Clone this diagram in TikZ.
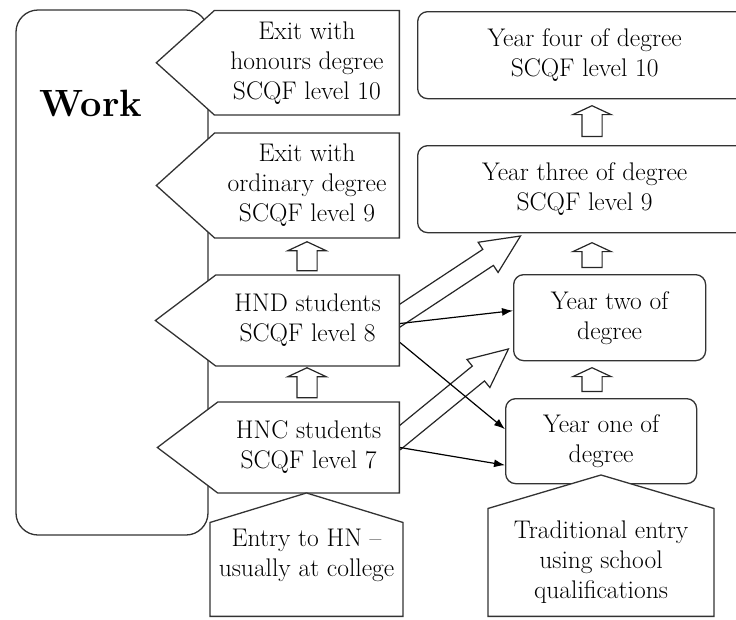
\documentclass[tikz,border=0pt]{standalone}
\usetikzlibrary{arrows.meta,shapes.symbols,shapes.arrows,calc,backgrounds}
\tikzset{
    %Define standard arrow tip
    >={Latex[length=11pt,width=8pt]},
    %Define text style
    txt/.style={
           align=center,
           font=\fontsize{25.5}{30}\selectfont},
    %Define style for boxes
    plain/.style={
           txt,
           rectangle,
           rounded corners=10pt,
           draw=black!80, line width=1.3pt,
           fill=white,
           anchor=north west},
    %Define style for exit and student boxes
    exitsign/.style={
           txt,
           signal, signal to=west,
           draw=black!80, line width=1.3pt,
           fill=white,
           inner sep=1pt,
           anchor=east},
    %Define style for entry boxes
    entrysign/.style={
           txt,
           signal, signal to=north,
           draw=black!80, line width=1.3pt,
           fill=white,
           inner sep=1pt,
           anchor=south},
    % Define arrow style
    pil/.style={
           ->,
           line width=1.2pt},
    % Define hollow arrow styles
    bigpil/.style={
           single arrow,
           draw=black!85, line width=1.2pt,
           fill=white,
           inner sep=0pt, inner ysep=9pt,
           minimum width=0pt,
           single arrow head extend=8.5pt,
           single arrow tip angle=50},
    uppil/.style={
           bigpil,
           inner ysep=9.5pt,
           single arrow head extend=9pt,
           single arrow tip angle=130}
}
% hollow arrow from one point to another
\newcommand\hollowpil[3][bigpil]{%
    \path let \p1=#2, \p2=#3,
        \n1={atan2(\y2-\y1,\x2-\x1)},
        \n2={veclen(\x2-\x1,\y2-\y1)} in
        node[#1, anchor=tail, rotate=\n1, minimum height=\n2] at (\p1) {};
}

\begin{document}
\begin{tikzpicture}[x=1pt, y=-1pt]
        \useasboundingbox (0,0) rectangle (736,619);
        %nodes

        % work node
        \node[rectangle, rounded corners=22pt, draw=black!80, line width=1.3pt,
        minimum width=192pt, minimum height=525pt]
        (work)
        at (112,272.5)
        {}
        ;
        \node[font=\fontsize{38}{40}\bfseries\selectfont]
        (worktext)
        at (91,103)
        {Work}
        ;

        % exit with honours node
        \node[exitsign, minimum width=243pt, minimum height=104.5pt,
        signal pointer angle=84]
        (exithon)
        at (400,62.75)
        {Exit with\\honours degree\\SCQF level 10}
        ;

        % exit with ordinary node
        \node[exitsign, minimum width=243pt, minimum height=105pt,
        signal pointer angle=84]
        (exitord)
        at (400,185.5)
        {Exit with\\ordinary degree\\SCQF level 9}
        ;

        % HND students node
        \node[exitsign, minimum width=244pt, minimum height=91pt,
        signal pointer angle=74]
        (hnd)
        at (400,320.5)
        {HND students\\SCQF level 8}
        ;

        % HNC students node
        \node[exitsign, minimum width=242pt, minimum height=91pt,
        signal pointer angle=74]
        (hnc)
        at (400,447.5)
        {HNC students\\SCQF level 7}
        ;

        % year four node
        \node[plain, minimum width=334pt, minimum height=87pt]
        (y4)
        at (417,11)
        {Year four of degree\\SCQF level 10}
        ;

        % year three node
        \node[plain, minimum width=334pt, minimum height=87pt]
        (y3)
        at (417,145)
        {Year three of degree\\SCQF level 9}
        ;

        % year two node
        \node[plain, minimum width=192pt, minimum height=86pt]
        (y2)
        at (513,274)
        {Year two of\\degree}
        ;

        % year one node
        \node[plain, minimum width=191pt, minimum height=85pt]
        (y1)
        at (505,398)
        {Year one of\\degree}
        ;

        % entry to HN node
        \node[entrysign, minimum width=193pt, minimum height=121pt,
        signal pointer angle=146]
        (entry)
        at (306.5,617)
        {Entry to HN --\\usually at college\\[4pt]\mbox{}}
        ;

        % traditional entry node
        \node[entrysign, minimum width=226pt, minimum height=134pt,
        signal pointer angle=147]
        (trad)
        at (601,617)
        {Traditional entry\\using school\\qualifications}
        ;

        \begin{pgfonlayer}{background}
        % steps up the left column
        \hollowpil[uppil]{([xshift=-93pt,yshift=3pt]hnd.north east)}
            {([xshift=-93pt,yshift=-5pt]exitord.south east)}
        \hollowpil[uppil]{([xshift=-93pt,yshift=3pt]hnc.north east)}
            {([xshift=-93pt,yshift=-3pt]hnd.south east)}

        % steps up the right column
        \hollowpil[uppil]{([xshift=175pt,yshift=8pt]y3.north west)}
            {([xshift=175pt,yshift=-7pt]y4.south west)}
        \hollowpil[uppil]{([xshift=79pt,yshift=6pt]y2.north west)}
            {([xshift=175pt,yshift=-10pt]y3.south west)}
        \hollowpil[uppil]{([xshift=87pt,yshift=6pt]y1.north west)}
            {([xshift=79pt,yshift=-7pt]y2.south west)}

        % HND and HNC into later years
        \hollowpil{([xshift=-6pt,yshift=1pt]hnd.east)}
            {([xshift=103pt,yshift=-3pt]y3.south west)}
        \hollowpil{([xshift=-6pt,yshift=5pt]hnc.east)}
            {([xshift=-5pt,yshift=12pt]y2.south west)}

        % HND and year two
        \draw[pil]
        ([yshift=-3pt]hnd.east) -- ([yshift=7pt]y2.west)
        ;

        % HND and year one
        \draw[pil]
        ([yshift=-22pt]hnd.east) -- ([yshift=12pt]y1.west)
        ;

        % HNC and year one
        \draw[pil]
        (hnc.east) -- ([yshift=-24pt]y1.west)
        ;
        \end{pgfonlayer}

    \end{tikzpicture}
\end{document}
